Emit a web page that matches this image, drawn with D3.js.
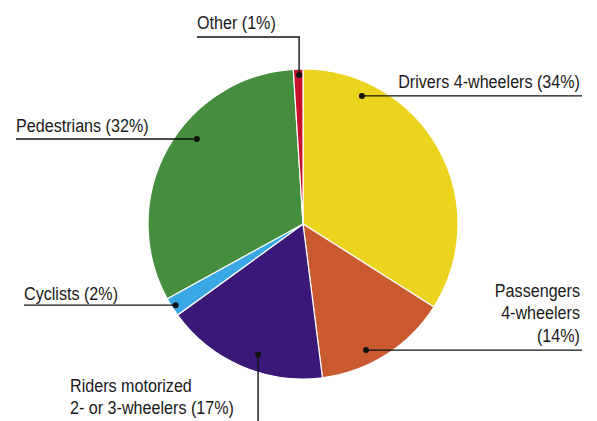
<!DOCTYPE html>
<html>
<head>
<meta charset="utf-8">
<script src="https://cdn.jsdelivr.net/npm/d3@7"></script>
<style>
  body { margin: 0; background: #fff; }
  text { font-family: "Liberation Sans", Arial, sans-serif; font-size: 19px; fill: #1a1a1a; }
</style>
</head>
<body>
<svg id="chart" width="597" height="421"></svg>
<script>
// shares of road traffic deaths, clockwise from 12 o'clock
const categories = ['Drivers 4-wheelers', 'Passengers 4-wheelers', 'Riders motorized 2- or 3-wheelers', 'Cyclists', 'Pedestrians', 'Other'];
const shares = [34, 14, 17, 2, 32, 1];
const colors = ['#ecd31d', '#c95a2f', '#3b1877', '#3aa8e5', '#448e3e', '#c8102e'];
const labelLines = [
  ['Drivers 4-wheelers (34%)'],
  ['Passengers', '4-wheelers', '(14%)'],
  ['Riders motorized', '2- or 3-wheelers (17%)'],
  ['Cyclists (2%)'],
  ['Pedestrians (32%)'],
  ['Other (1%)']
];

const width = 597, height = 421;
const cx = 303, cy = 224, radius = 155;

// where each leader dot sits: degrees away from slice middle, distance from centre
const callouts = [
  { shift: -36.5, r: 141, anchor: 'end',   tx: 580, ty: 88,  line: 'right',  end: 582 },
  { shift: 5.8,   r: 141, anchor: 'end',   tx: 580, ty: 297, line: 'right',  end: 582 },
  { shift: -4.4,  r: 138, anchor: 'start', tx: 70,  ty: 392, line: 'down',   end: 421 },
  { shift: -0.1,  r: 151, anchor: 'start', tx: 24,  ty: 300, line: 'left',   end: 24 },
  { shift: 9.9,   r: 136, anchor: 'start', tx: 16,  ty: 132, line: 'left',   end: 16 },
  { shift: 0.3,   r: 149, anchor: 'start', tx: 197, ty: 29,  line: 'elbow',  end: 197, ey: 37 }
];

const svg = d3.select('#chart');
const g = svg.append('g').attr('transform', `translate(${cx},${cy})`);

const pie = d3.pie().sort(null).value(d => d)(shares);
const arc = d3.arc().innerRadius(0).outerRadius(radius);

g.selectAll('path.slice')
  .data(pie)
  .join('path')
  .attr('class', 'slice')
  .attr('d', arc)
  .attr('fill', (d, i) => colors[i])
  .attr('stroke', '#fff')
  .attr('stroke-width', 1.2);

// the original uses a condensed face, so squeeze the text horizontally
const probe = svg.append('text').text(labelLines[0][0]);
const squeeze = 182 / probe.node().getComputedTextLength();
probe.remove();

pie.forEach(function(d, i) {
  const c = callouts[i];
  const mid = (d.startAngle + d.endAngle) / 2 + c.shift * Math.PI / 180;
  const [px, py] = d3.pointRadial(mid, c.r);
  const x = px + cx, y = py + cy;
  let pts;
  if (c.line === 'right') pts = [[x, y], [c.end, y]];
  else if (c.line === 'left') pts = [[c.end, y], [x, y]];
  else if (c.line === 'down') pts = [[x, y], [x, c.end]];
  else pts = [[x, y], [x, c.ey], [c.end, c.ey]];

  svg.append('path')
    .attr('d', d3.line()(pts))
    .attr('fill', 'none')
    .attr('stroke', '#111')
    .attr('stroke-width', 1.4);
  svg.append('circle')
    .attr('cx', x).attr('cy', y).attr('r', 3)
    .attr('fill', '#111');

  const t = svg.append('text')
    .attr('transform', `translate(${c.tx},${c.ty}) scale(${squeeze},1)`)
    .attr('text-anchor', c.anchor);
  labelLines[i].forEach((s, k) => {
    t.append('tspan').attr('x', 0).attr('dy', k === 0 ? 0 : 22.5).text(s);
  });
});
</script>
</body>
</html>
